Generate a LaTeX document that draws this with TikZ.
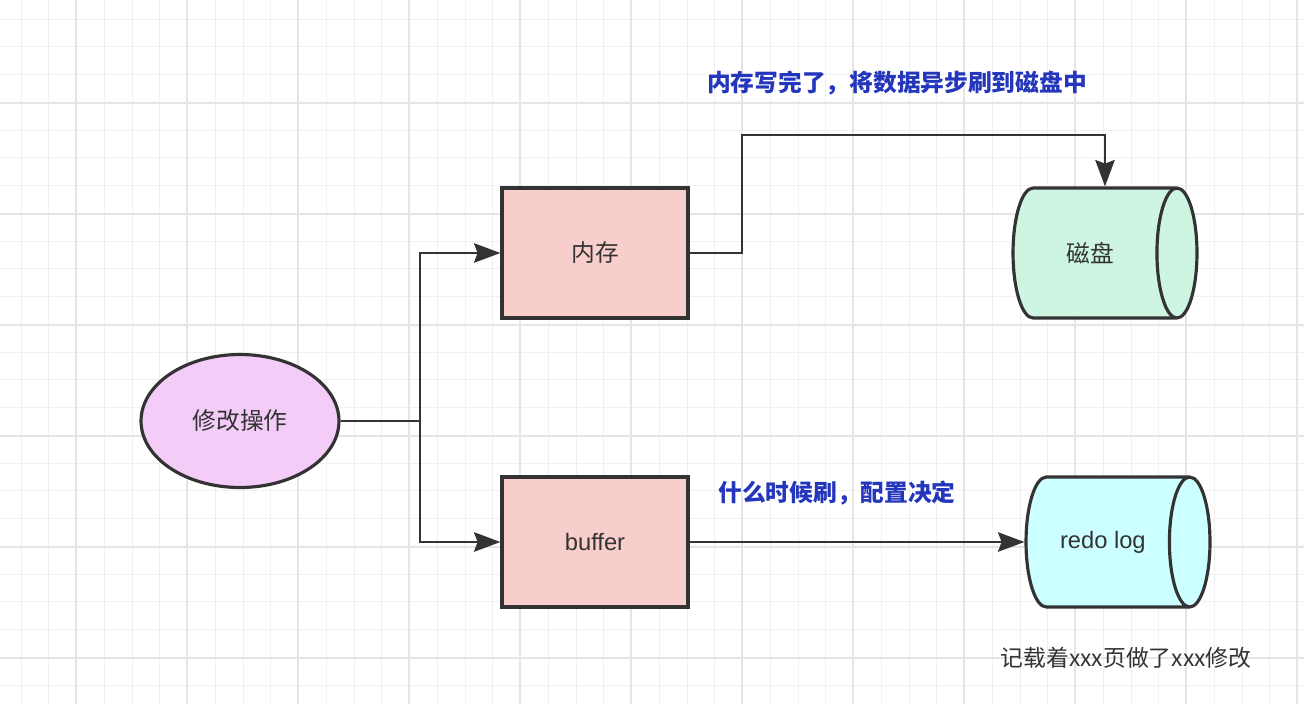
\documentclass[tikz,border=0pt]{standalone}
\usepackage{fontspec}
\usepackage{tikz}
\usetikzlibrary{shapes.geometric,arrows.meta}
\setmainfont{Liberation Sans}
\newfontfamily\cjk{Noto Sans CJK SC}
\definecolor{boxpink}{HTML}{F8CECC}
\definecolor{oppink}{HTML}{F4CCF8}
\definecolor{diskgreen}{HTML}{CDF5E1}
\definecolor{logcyan}{HTML}{CCFFFF}
\definecolor{noteblue}{HTML}{2436BC}
\definecolor{ink}{HTML}{333333}
\tikzset{
    gridminor/.style={line width=0.5pt, black!6},
    gridmajor/.style={line width=0.6pt, black!10},
    base/.style={draw=ink, line width=1.8pt, text=ink, font=\fontsize{13.5}{16}\selectfont},
    membox/.style={base, rectangle, fill=boxpink, minimum width=3.72cm, minimum height=2.6cm},
    opnode/.style={base, ellipse, fill=oppink, minimum width=3.96cm, minimum height=2.66cm},
    store/.style={base, cylinder, aspect=1.2, anchor=shape center, minimum width=2.6cm, minimum height=3.68cm},
    note/.style={font=\cjk\bfseries\fontsize{13.5}{16}\selectfont, text=noteblue},
    arr/.style={draw=ink, line width=1.6pt, -{Stealth[length=15pt,width=11pt,inset=2pt]}},
}

\begin{document}
\begin{tikzpicture}[x=0.02cm, y=-0.02cm]
    \useasboundingbox (0,0) rectangle (1304,704);
    \foreach \i in {0,...,46} \draw[gridminor] ({21+27.75*\i},0) -- ({21+27.75*\i},704);
    \foreach \j in {0,...,24} \draw[gridminor] (0,{19+27.75*\j}) -- (1304,{19+27.75*\j});
    \foreach \i in {0,...,11} \draw[gridmajor] ({76+111*\i},0) -- ({76+111*\i},704);
    \foreach \j in {0,...,5} \draw[gridmajor] (0,{103+111*\j}) -- (1304,{103+111*\j});
    \node[opnode] (op) at (240,421) {\cjk 修改操作};
    \node[membox] (mem) at (595,253) {\cjk 内存};
    \node[membox] (buf) at (595,542) {buffer};
    \node[store, fill=diskgreen] (disk) at (1105,253) {\cjk 磁盘};
    \node[store, fill=logcyan] (redo) at (1118,542) {redo log};
    \node[note] (flushnote) at (897,83) {内存写完了，将数据异步刷到磁盘中};
    \node[note] (cfgnote) at (837,493) {什么时候刷，配置决定};
    \node[font=\cjk\fontsize{13}{16}\selectfont, text=ink] (lognote) at (1126,658) {记载着xxx页做了xxx修改};
    \coordinate (split) at (420,421);
    \coordinate (up) at (742,135);
    \draw[draw=ink, line width=1.6pt] (op.east) -- (split);
    \draw[arr] (split) |- (mem.west);
    \draw[arr] (split) |- (buf.west);
    \draw[arr] (mem.east) -| (up) -| (disk.shape center |- disk.north);
    \draw[arr] (buf.east) -- (redo.west);
\end{tikzpicture}
\end{document}
